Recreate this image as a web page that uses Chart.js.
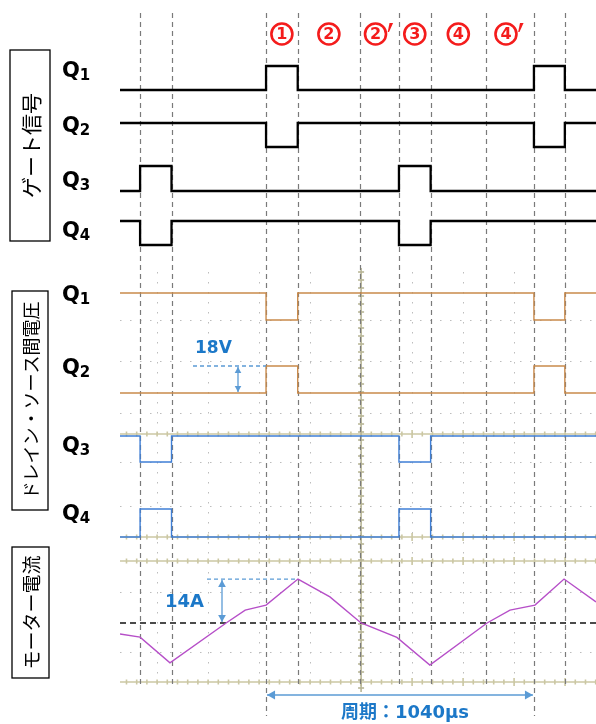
<!DOCTYPE html>
<html>
<head>
<meta charset="utf-8">
<script src="https://cdn.jsdelivr.net/npm/chart.js@4.4.1/dist/chart.umd.min.js"></script>
<style>
  html, body { margin: 0; padding: 0; background: #fff; }
  canvas { display: block; }
</style>
</head>
<body>
<canvas id="timing" width="596" height="724"></canvas>
<script>
// time axis in µs, 0 = first Q1 turn-on edge
const timeUs = [-567, -489, -367, 0, 123, 516, 639, 1040, 1160, 1281];
const gateQ1 = [0, 0, 0, 1, 0, 0, 0, 1, 0, 0];
const gateQ2 = [1, 1, 1, 0, 1, 1, 1, 0, 1, 1];
const gateQ3 = [0, 1, 0, 0, 0, 1, 0, 0, 0, 0];
const gateQ4 = [1, 0, 1, 1, 1, 0, 1, 1, 1, 1];
// drain-source voltage (V)
const vdsQ1 = [18, 18, 18, 0, 18, 18, 18, 0, 18, 18];
const vdsQ2 = [0, 0, 0, 18, 0, 0, 0, 18, 0, 0];
const vdsQ3 = [18, 0, 18, 18, 18, 0, 18, 18, 18, 18];
const vdsQ4 = [0, 18, 0, 0, 0, 18, 0, 0, 0, 0];
// motor current (A)
const currentTime = [-567, -489, -373, -155, -81, 0, 124, 248, 369, 508, 636, 858, 947, 1044, 1157, 1281];
const currentA    = [-3.5, -4.5, -12.7, 0, 4.1, 5.7, 14.0, 8.3, 0, -4.6, -13.4, 0, 4.1, 5.7, 14.0, 6.7];

// phase boundaries (dashed lines) and phase names
const markTimes = [-489, -367, 0, 123, 365, 516, 639, 854, 1040, 1160];
const phaseNums = ['1', '2', '2', '3', '4', '4'];
const phasePrime = [false, false, true, false, false, true];
const phaseBounds = [0, 123, 365, 516, 639, 854, 1040];
const periodUs = 1040;

const H = 724;
const SCOPE_CENTER = 369, SCOPE_DIV = 198;
const BLUE_TXT = '#1c78c8', BLUE_LN = '#5b9bd5', OLIVE = '#cbc7a3', RED = '#f41c1c';

function band(basePx, pxPerUnit) {
  return { type: 'linear', display: false, min: -(H - basePx) / pxPerUnit, max: basePx / pxPerUnit };
}
function pts(xs, ys) { return xs.map((t, i) => ({ x: t, y: ys[i] })); }

function trace(data, axis, color, width, stepped) {
  return {
    data, yAxisID: axis, borderColor: color, borderWidth: width,
    stepped: stepped ? 'before' : false, pointRadius: 0, tension: 0, fill: false
  };
}

function arrowHead(ctx, x, y, dx, dy, size) {
  const len = Math.hypot(dx, dy), ux = dx / len, uy = dy / len;
  ctx.beginPath();
  ctx.moveTo(x, y);
  ctx.lineTo(x - ux * size - uy * size * 0.55, y - uy * size + ux * size * 0.55);
  ctx.lineTo(x - ux * size + uy * size * 0.55, y - uy * size - ux * size * 0.55);
  ctx.closePath();
  ctx.fill();
}
function dblArrow(ctx, x1, y1, x2, y2, size) {
  ctx.beginPath(); ctx.moveTo(x1, y1); ctx.lineTo(x2, y2); ctx.stroke();
  arrowHead(ctx, x2, y2, x2 - x1, y2 - y1, size);
  arrowHead(ctx, x1, y1, x1 - x2, y1 - y2, size);
}
function qLabel(ctx, x, y, n) {
  ctx.fillStyle = '#000';
  ctx.textBaseline = 'middle';
  ctx.textAlign = 'left';
  ctx.font = 'bold 21px "DejaVu Sans"';
  ctx.fillText('Q', x, y);
  const w = ctx.measureText('Q').width;
  ctx.font = 'bold 15px "DejaVu Sans"';
  ctx.fillText(String(n), x + w, y + 4);
}
function circledNum(ctx, cx, cy, n, prime) {
  ctx.strokeStyle = RED; ctx.fillStyle = RED; ctx.lineWidth = 2.6; ctx.setLineDash([]);
  ctx.beginPath(); ctx.arc(cx, cy, 10.5, 0, Math.PI * 2); ctx.stroke();
  ctx.font = 'bold 16px "DejaVu Sans"';
  ctx.textAlign = 'center'; ctx.textBaseline = 'middle';
  ctx.fillText(n, cx, cy + 1);
  if (prime) {
    // thick tapered prime mark
    const px = cx + 14, py = cy - 11;
    ctx.beginPath();
    ctx.moveTo(px, py);
    ctx.lineTo(px + 3.6, py);
    ctx.lineTo(px - 0.5, py + 9);
    ctx.lineTo(px - 1.8, py + 9);
    ctx.closePath();
    ctx.fill();
  }
}
function sideBox(ctx, x, y, w, h, text, size) {
  ctx.strokeStyle = '#000'; ctx.lineWidth = 1.3; ctx.setLineDash([]);
  ctx.strokeRect(x, y, w, h);
  ctx.save();
  ctx.translate(x + w / 2, y + h / 2);
  ctx.rotate(-Math.PI / 2);
  ctx.fillStyle = '#000';
  ctx.font = size + 'px "Noto Sans CJK JP"';
  ctx.textAlign = 'center'; ctx.textBaseline = 'middle';
  ctx.fillText(text, 0, 1);
  ctx.restore();
}

const decor = {
  id: 'decor',
  beforeDatasetsDraw(chart) {
    const { ctx, chartArea: a, scales } = chart;
    const x = scales.x;
    ctx.save();
    // scope dotted grid
    ctx.strokeStyle = '#bdbdbd'; ctx.lineWidth = 1; ctx.setLineDash([1.5, 8.5]);
    for (let k = -4; k <= 4; k++) {
      const px = Math.round(x.getPixelForValue(SCOPE_CENTER + k * SCOPE_DIV)) + 0.5;
      ctx.beginPath(); ctx.moveTo(px, 272); ctx.lineTo(px, 690); ctx.stroke();
    }
    [320, 361, 413, 462, 506, 592, 652].forEach(py => {
      ctx.beginPath(); ctx.moveTo(a.left, py + 0.5); ctx.lineTo(a.right, py + 0.5); ctx.stroke();
    });
    ctx.setLineDash([]);
    // olive scope graticule lines with ticks
    ctx.strokeStyle = OLIVE; ctx.lineWidth = 1.6;
    [434, 537, 561, 682].forEach(py => {
      ctx.beginPath(); ctx.moveTo(a.left, py); ctx.lineTo(a.right, py); ctx.stroke();
      for (let t = SCOPE_CENTER - 5 * SCOPE_DIV; t <= x.max; t += SCOPE_DIV / 5) {
        if (t < x.min) continue;
        const px = x.getPixelForValue(t);
        const major = Math.abs(((t - SCOPE_CENTER) / SCOPE_DIV) % 1) < 0.01;
        const s = major ? 4 : 2.5;
        ctx.beginPath(); ctx.moveTo(px, py - s); ctx.lineTo(px, py + s); ctx.stroke();
      }
    });
    const cx = x.getPixelForValue(SCOPE_CENTER);
    ctx.strokeStyle = '#b8b596';
    ctx.beginPath(); ctx.moveTo(cx, 268); ctx.lineTo(cx, 692); ctx.stroke();
    for (let py = 272; py < 690; py += 8) {
      ctx.beginPath(); ctx.moveTo(cx - 3, py); ctx.lineTo(cx + 3, py); ctx.stroke();
    }
    // phase boundary dashed lines
    ctx.strokeStyle = '#7a7a7a'; ctx.lineWidth = 1.2; ctx.setLineDash([5, 4]);
    markTimes.forEach(t => {
      const px = Math.round(x.getPixelForValue(t)) + 0.5;
      const bottom = (t === 0 || t === periodUs) ? 716 : 688;
      ctx.beginPath(); ctx.moveTo(px, 13); ctx.lineTo(px, bottom); ctx.stroke();
    });
    // current zero line
    const y0 = scales.yI.getPixelForValue(0);
    ctx.strokeStyle = '#111'; ctx.lineWidth = 1.5; ctx.setLineDash([6, 4]);
    ctx.beginPath(); ctx.moveTo(a.left, y0); ctx.lineTo(a.right, y0); ctx.stroke();
    ctx.restore();
  },
  afterDatasetsDraw(chart) {
    const { ctx, scales } = chart;
    const x = scales.x;
    ctx.save();
    // phase numbers
    phaseNums.forEach((n, i) => {
      let mid = (x.getPixelForValue(phaseBounds[i]) + x.getPixelForValue(phaseBounds[i + 1])) / 2;
      if (phasePrime[i]) mid -= 4;
      circledNum(ctx, mid, 34, n, phasePrime[i]);
    });
    // section boxes
    sideBox(ctx, 10, 50, 40, 191, 'ゲート信号', 21);
    sideBox(ctx, 12, 291, 36, 219, 'ドレイン・ソース間電圧', 18);
    sideBox(ctx, 12, 547, 37, 131, 'モーター電流', 19);
    // Q labels
    [72, 127, 182, 232].forEach((py, i) => qLabel(ctx, 62, py, i + 1));
    [296, 369, 447, 515].forEach((py, i) => qLabel(ctx, 62, py, i + 1));

    ctx.strokeStyle = BLUE_LN; ctx.fillStyle = BLUE_LN; ctx.lineWidth = 1.3;
    // 18V
    const v18 = scales.yV2.getPixelForValue(18), v0 = scales.yV2.getPixelForValue(0);
    const x266 = x.getPixelForValue(0);
    ctx.setLineDash([4, 3]);
    ctx.beginPath(); ctx.moveTo(193, v18); ctx.lineTo(x266, v18); ctx.stroke();
    ctx.setLineDash([]);
    dblArrow(ctx, 238, v18 + 1, 238, v0 - 1, 6);
    // 14A
    const i14 = scales.yI.getPixelForValue(14), i0 = scales.yI.getPixelForValue(0);
    const xPeak = x.getPixelForValue(124);
    ctx.setLineDash([4, 3]);
    ctx.beginPath(); ctx.moveTo(207, i14); ctx.lineTo(xPeak, i14); ctx.stroke();
    ctx.setLineDash([]);
    dblArrow(ctx, 222, i14 + 1, 222, i0 - 1, 7);
    // period
    dblArrow(ctx, x266 + 1, 695, x.getPixelForValue(periodUs) - 1, 695, 8);

    ctx.fillStyle = BLUE_TXT; ctx.textBaseline = 'middle';
    ctx.textAlign = 'left';
    ctx.font = 'bold 17px "DejaVu Sans"';
    ctx.fillText('18V', 195, 349);
    ctx.font = 'bold 18px "DejaVu Sans"';
    ctx.fillText('14A', 165, 602);
    ctx.textAlign = 'center';
    ctx.font = 'bold 18px "DejaVu Sans", "Noto Sans CJK JP"';
    ctx.fillText('周期：' + periodUs + 'μs', 405, 713);
    ctx.restore();
  }
};

const ctx = document.getElementById('timing');

new Chart(ctx, {
  type: 'line',
  data: {
    datasets: [
      trace(pts(timeUs, gateQ1), 'yG1', '#000', 2.3, true),
      trace(pts(timeUs, gateQ2), 'yG2', '#000', 2.3, true),
      trace(pts(timeUs, gateQ3), 'yG3', '#000', 2.3, true),
      trace(pts(timeUs, gateQ4), 'yG4', '#000', 2.3, true),
      trace(pts(timeUs, vdsQ1), 'yV1', '#c98a4b', 1.4, true),
      trace(pts(timeUs, vdsQ2), 'yV2', '#c98a4b', 1.4, true),
      trace(pts(timeUs, vdsQ3), 'yV3', '#3f7fd6', 1.4, true),
      trace(pts(timeUs, vdsQ4), 'yV4', '#3f7fd6', 1.4, true),
      trace(pts(currentTime, currentA), 'yI', '#b64fc8', 1.4, false)
    ]
  },
  options: {
    responsive: false,
    animation: false,
    devicePixelRatio: 1,
    layout: { padding: { left: 120, right: 0, top: 0, bottom: 0 } },
    plugins: { legend: { display: false }, tooltip: { enabled: false } },
    scales: {
      x: { type: 'linear', display: false, min: -567, max: 1281 },
      yG1: band(90, 24),
      yG2: band(147, 24),
      yG3: band(191, 25),
      yG4: band(245, 24),
      yV1: band(320, 1.5),
      yV2: band(393, 1.5),
      yV3: band(462, 26 / 18),
      yV4: band(537, 28 / 18),
      yI: band(623, 3.14)
    }
  },
  plugins: [decor]
});
</script>
</body>
</html>
